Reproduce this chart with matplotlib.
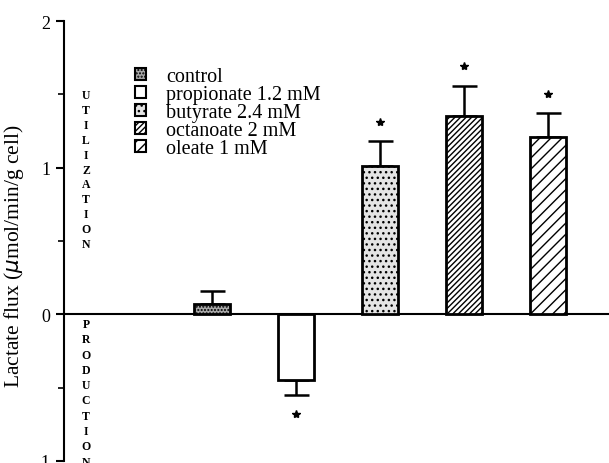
import matplotlib
matplotlib.use('Agg')
import matplotlib.pyplot as plt
from matplotlib.patches import Patch

labels = ['control', 'propionate 1.2 mM', 'butyrate 2.4 mM', 'octanoate 2 mM', 'oleate 1 mM']
flux = [0.07, -0.45, 1.01, 1.35, 1.21]
sem = [0.09, 0.10, 0.17, 0.21, 0.16]
signif = [False, True, True, True, True]

faces = ['#a8a8a8', 'white', '#e4e4e4', 'white', 'white']
hatches = ['.....', '', '...', '//////', '///']

plt.rcParams['font.family'] = ['Liberation Serif', 'DejaVu Serif']
plt.rcParams['hatch.linewidth'] = 1.0

fig = plt.figure(figsize=(6.09, 4.64), dpi=100)
ax = fig.add_axes([64 / 609, 2 / 464, 545 / 609, 440 / 464])

x = list(range(len(flux)))
bars = ax.bar(x, flux, width=0.43, color=faces, edgecolor='black',
              linewidth=2, zorder=3)
for b, h in zip(bars, hatches):
    b.set_hatch(h)

for xi, v, e, s in zip(x, flux, sem, signif):
    sign = 1 if v >= 0 else -1
    ax.errorbar(xi, v, yerr=[[0], [e]] if sign > 0 else [[e], [0]],
                fmt='none', ecolor='black', elinewidth=1.8, capsize=9,
                capthick=1.8, zorder=2)
    if s:
        ax.plot(xi, v + sign * (e + 0.13), marker='*', color='black',
                markersize=6, zorder=4)

ax.set_xlim(-1.76, 4.73)
ax.set_ylim(-1, 2)
ax.spines['top'].set_visible(False)
ax.spines['right'].set_visible(False)
ax.spines['bottom'].set_position(('data', 0))
ax.spines['bottom'].set_linewidth(1.5)
ax.spines['left'].set_linewidth(1.5)
ax.set_xticks([])
ax.set_yticks([-1, 0, 1, 2])
ax.set_yticklabels(['-1', '0', '1', '2'])
ax.set_yticks([-0.5, 0.5, 1.5], minor=True)
ax.tick_params(axis='y', which='major', direction='out', length=6, width=1.5,
               labelsize=13, pad=4)
ax.tick_params(axis='y', which='minor', direction='out', length=4, width=1.2)
ax.set_ylabel('Lactate flux ($\\mu$mol/min/g cell)', fontsize=15.5)
ax.yaxis.set_label_coords(-0.0697, 0.468)

# vertical words, positions in pixels from top
for i, ch in enumerate('UTILIZATION'):
    fig.text(86 / 609, 1 - (96 + i * 14.9) / 464, ch, fontsize=8.5,
             fontweight='bold', ha='center', va='center')
for i, ch in enumerate('PRODUCTION'):
    fig.text(86 / 609, 1 - (325 + i * 15.3) / 464, ch, fontsize=8.5,
             fontweight='bold', ha='center', va='center')

handles = [Patch(facecolor=f, edgecolor='black', hatch=h, linewidth=1.5)
           for f, h in zip(faces, hatches)]
ax.legend(handles, labels, loc='upper left', bbox_to_anchor=(135 / 609, 1 - 68 / 464),
          bbox_transform=fig.transFigure, frameon=False, fontsize=14.5,
          handlelength=0.55, handleheight=0.55, handletextpad=1.0,
          labelspacing=-0.05, borderaxespad=0, borderpad=0)

fig.savefig('out.png', dpi=100)
